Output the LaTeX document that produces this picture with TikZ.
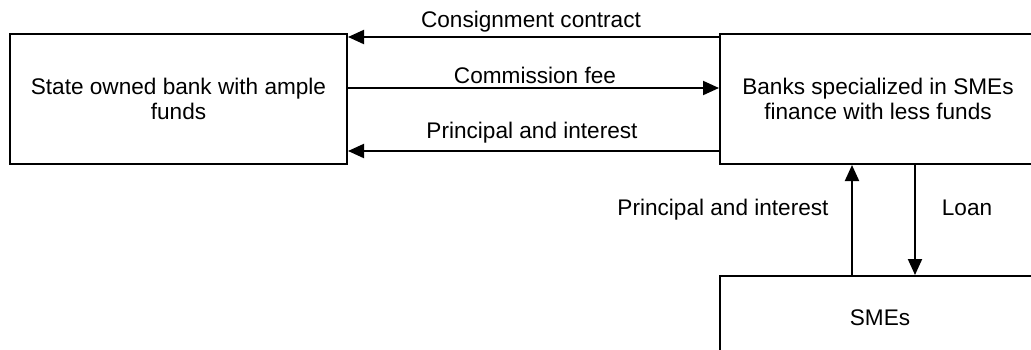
\documentclass[tikz,border=0pt]{standalone}
\usepackage{fontspec}
\setmainfont{Liberation Sans}
\usetikzlibrary{arrows.meta}
\begin{document}
\begin{tikzpicture}[x=1pt,y=-1pt,
  box/.style={draw, line width=2pt, rectangle, inner sep=0pt, align=center,
              font=\fontsize{22.6}{25}\selectfont},
  flow/.style={line width=2pt, -{Triangle[length=16pt,width=14pt]}},
  lab/.style={font=\fontsize{22.6}{25}\selectfont, anchor=base, inner sep=0pt}]
\useasboundingbox (0,0) rectangle (1031,349);
\clip (0,0) rectangle (1031,349);

% the three parties
\node[box, minimum width=337pt, minimum height=130pt] (state) at (178.5,99)
  {State owned bank with ample\\funds};
\node[box, minimum width=316pt, minimum height=130pt] (spec) at (878,99)
  {Banks specialized in SMEs\\finance with less funds};
\node[box, minimum width=320pt, minimum height=84pt] (sme) at (880,318) {SMEs};

% flows between the two banks
\draw[flow] ([yshift=-4pt]spec.north west) -- ([yshift=-4pt]state.north east);
\draw[flow] ([yshift=11pt]state.east) -- ([yshift=11pt]spec.west);
\draw[flow] ([yshift=14pt]spec.south west) -- ([yshift=14pt]state.south east);

% flows between the specialized bank and the SMEs
\draw[flow] ([xshift=133pt]sme.north west) -- ([xshift=133pt]spec.south west);
\draw[flow] ([xshift=196pt]spec.south west) -- ([xshift=196pt]sme.north west);

% flow labels
\node[lab] (consign) at (531,27) {Consignment contract};
\node[lab] (fee) at (535,83) {Commission fee};
\node[lab] (repay) at (532,138) {Principal and interest};
\node[lab] (repaysme) at (723,215) {Principal and interest};
\node[lab] (loan) at (967,215) {Loan};
\end{tikzpicture}
\end{document}
